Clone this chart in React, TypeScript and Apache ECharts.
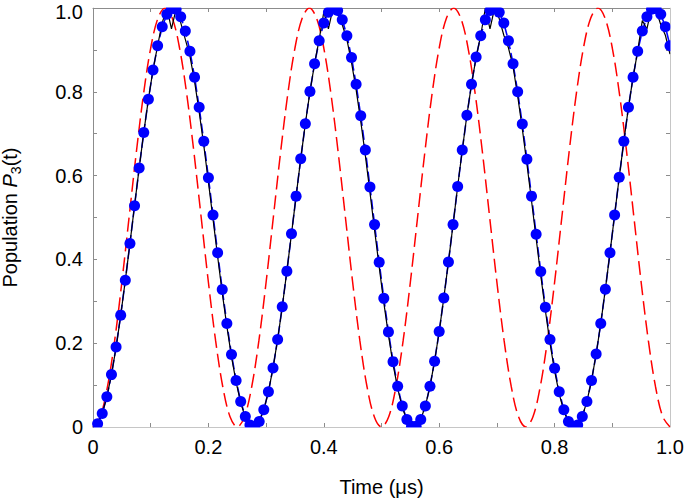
import React, { useEffect, useRef } from "react";
import * as echarts from "echarts";

// Time grid steps (µs)
const RED_STEP = 0.0125;
const BLUE_STEP = 0.008;

// Red dashed curve (values at t = 0, 0.0125, ... 1.0)
const redValues = [
  0, 0.0245, 0.0955, 0.2061, 0.3455, 0.5, 0.6545, 0.7939, 0.9045, 0.9755,
  1, 0.9755, 0.9045, 0.7939, 0.6545, 0.5, 0.3455, 0.2061, 0.0955, 0.0245,
  0, 0.0245, 0.0955, 0.2061, 0.3455, 0.5, 0.6545, 0.7939, 0.9045, 0.9755,
  1, 0.9755, 0.9045, 0.7939, 0.6545, 0.5, 0.3455, 0.2061, 0.0955, 0.0245,
  0, 0.0245, 0.0955, 0.2061, 0.3455, 0.5, 0.6545, 0.7939, 0.9045, 0.9755,
  1, 0.9755, 0.9045, 0.7939, 0.6545, 0.5, 0.3455, 0.2061, 0.0955, 0.0245,
  0, 0.0245, 0.0955, 0.2061, 0.3455, 0.5, 0.6545, 0.7939, 0.9045, 0.9755,
  1, 0.9755, 0.9045, 0.7939, 0.6545, 0.5, 0.3455, 0.2061, 0.0955, 0.0245,
  0,
];

// Blue dots (values at t = 0.008, 0.016, ... 1.0)
const blueValues = [
  0.008, 0.032, 0.072, 0.125, 0.191, 0.267, 0.35, 0.438, 0.528, 0.618,
  0.703, 0.782, 0.852, 0.91, 0.955, 0.985, 0.999, 0.997, 0.979, 0.945,
  0.897, 0.835, 0.763, 0.682, 0.595, 0.506, 0.416, 0.328, 0.247, 0.173,
  0.111, 0.061, 0.025, 0.005, 0.001, 0.013, 0.041, 0.084, 0.141, 0.209,
  0.287, 0.372, 0.461, 0.551, 0.64, 0.724, 0.801, 0.867, 0.922, 0.964,
  0.99, 1.0, 0.994, 0.972, 0.934, 0.882, 0.818, 0.743, 0.661, 0.573,
  0.483, 0.393, 0.307, 0.227, 0.156, 0.097, 0.05, 0.018, 0.002, 0.002,
  0.018, 0.05, 0.097, 0.157, 0.228, 0.308, 0.394, 0.483, 0.574, 0.661,
  0.744, 0.818, 0.883, 0.934, 0.972, 0.994, 1.0, 0.99, 0.964, 0.922,
  0.867, 0.8, 0.723, 0.639, 0.551, 0.46, 0.371, 0.286, 0.209, 0.14,
  0.084, 0.041, 0.013, 0.001, 0.005, 0.025, 0.061, 0.111, 0.174, 0.247,
  0.329, 0.416, 0.506, 0.596, 0.682, 0.763, 0.835, 0.897, 0.945, 0.979,
  0.997, 0.999, 0.985, 0.955, 0.91,
];

// Black solid curve (values at t = 0, 0.008, ... 1.0)
const blackValues = [
  0, 0.008, 0.032, 0.072, 0.125, 0.19, 0.266, 0.35, 0.438, 0.528,
  0.618, 0.703, 0.782, 0.852, 0.91, 0.965, 1.0, 0.95, 0.998, 0.965,
  0.925, 0.885, 0.825, 0.752, 0.672, 0.585, 0.496, 0.407, 0.32, 0.24,
  0.168, 0.107, 0.058, 0.023, 0.004, 0.001, 0.013, 0.041, 0.084, 0.141,
  0.209, 0.287, 0.372, 0.461, 0.551, 0.64, 0.724, 0.8, 0.867, 0.925,
  0.99, 0.95, 1.0, 0.985, 0.96, 0.925, 0.87, 0.805, 0.73, 0.648,
  0.56, 0.47, 0.382, 0.297, 0.22, 0.15, 0.092, 0.047, 0.016, 0.002,
  0.002, 0.018, 0.05, 0.097, 0.157, 0.228, 0.308, 0.394, 0.483, 0.574,
  0.661, 0.744, 0.818, 0.882, 0.935, 1.0, 0.95, 1.0, 0.975, 0.935,
  0.905, 0.86, 0.79, 0.712, 0.628, 0.54, 0.45, 0.362, 0.278, 0.2,
  0.134, 0.079, 0.038, 0.012, 0.001, 0.005, 0.025, 0.061, 0.111, 0.174,
  0.247, 0.329, 0.416, 0.506, 0.596, 0.682, 0.763, 0.835, 0.897, 0.97,
  0.95, 1.0, 0.995, 0.96, 0.935, 0.89,
];

const X_MIN = 0;
const X_MAX = 1;
const Y_MIN = 0;
const Y_MAX = 1;
const TICK_STEP = 0.1;
const X_NAME = "Time (μs)";

const FONT = "'Liberation Sans', Arial, Helvetica, sans-serif";
const FRAME = "#8c8c8c";

const fmt = (v: number) => {
  const n = Math.round(v * 10);
  if (n % 2 !== 0) return "";
  if (n === 0) return "0";
  return (n / 10).toFixed(1);
};

const fmtY = (v: number) => {
  const s = fmt(v);
  if (Math.round(v * 10) === 10) return "{t|" + s + "}";
  return s;
};

export default function App() {
  const ref = useRef<HTMLDivElement>(null);

  useEffect(() => {
    if (!ref.current) return;
    const chart = echarts.init(ref.current, undefined, { renderer: "svg" });

    const redData = redValues.map((v, i) => [i * RED_STEP, v]);
    const blueData = blueValues.map((v, i) => [(i + 1) * BLUE_STEP, v]);
    const blackData = blackValues.map((v, i) => [i * BLUE_STEP, v]);

    const L = 93, R = 670, T = 8, B = 427;

    const axisCommon = {
      min: X_MIN,
      max: X_MAX,
      interval: TICK_STEP,
      axisLine: { show: true, onZero: false, lineStyle: { color: FRAME, width: 1 } },
      axisTick: { show: true, inside: true, length: 4, lineStyle: { color: FRAME, width: 1 } },
      splitLine: { show: false },
    };

    chart.setOption({
      animation: false,
      backgroundColor: "#ffffff",
      grid: {
        left: L,
        right: 685 - R,
        top: T,
        bottom: 503 - B,
        containLabel: false,
        outerBoundsMode: "none",
      },
      xAxis: [
        {
          ...axisCommon,
          type: "value",
          position: "bottom",
          name: X_NAME,
          nameLocation: "middle",
          nameGap: 50,
          nameTextStyle: { color: "#000", fontSize: 20, fontFamily: FONT },
          axisLabel: { formatter: fmt, color: "#000", fontSize: 20, fontFamily: FONT, margin: 10 },
        },
        {
          ...axisCommon,
          type: "value",
          position: "top",
          axisLabel: { show: false },
        },
      ],
      yAxis: [
        {
          ...axisCommon,
          min: Y_MIN,
          max: Y_MAX,
          type: "value",
          position: "left",
          name: "Population {i|P}{sub|3}(t)",
          nameLocation: "middle",
          nameRotate: 90,
          nameGap: 70,
          nameTextStyle: {
            color: "#000",
            fontSize: 20,
            fontFamily: FONT,
            lineHeight: 26,
            rich: {
              i: { fontStyle: "italic", fontSize: 20, fontFamily: FONT, color: "#000", lineHeight: 26 },
              sub: { fontSize: 14, fontFamily: FONT, color: "#000", verticalAlign: "bottom", lineHeight: 18 },
            },
          },
          axisLabel: {
            formatter: fmtY,
            color: "#000",
            fontSize: 20,
            fontFamily: FONT,
            margin: 10,
            rich: {
              t: { fontSize: 20, fontFamily: FONT, color: "#000", padding: [7, 0, 0, 0] },
            },
          },
        },
        {
          ...axisCommon,
          min: Y_MIN,
          max: Y_MAX,
          type: "value",
          position: "right",
          axisLabel: { show: false },
        },
      ],
      series: [
        {
          type: "line",
          data: redData,
          smooth: 0.35,
          showSymbol: false,
          symbol: "none",
          lineStyle: { color: "#ff0000", width: 1.5, type: [14, 6] },
          z: 2,
          silent: true,
        },
        {
          type: "line",
          data: blueData,
          showSymbol: false,
          symbol: "none",
          lineStyle: { color: "#0000ff", width: 1.6, type: [10, 4] },
          z: 3,
          silent: true,
        },
        {
          type: "line",
          data: blackData,
          showSymbol: false,
          symbol: "none",
          lineStyle: { color: "#000000", width: 1.2 },
          z: 4,
          silent: true,
        },
        {
          type: "scatter",
          data: blueData,
          symbol: "circle",
          symbolSize: 11,
          itemStyle: { color: "#0000ff", opacity: 1 },
          clip: false,
          z: 5,
          silent: true,
        },
      ],
      graphic: [
        { type: "rect", z: 100, shape: { x: L - 1, y: 0, width: 685 - L + 1, height: T - 0.5 }, style: { fill: "#fff" } },
        { type: "rect", z: 100, shape: { x: R + 0.5, y: 0, width: 685 - R, height: B + 6 }, style: { fill: "#fff" } },
        { type: "rect", z: 100, shape: { x: L + 0.5, y: B + 0.5, width: R - L, height: 9 }, style: { fill: "#fff" } },
      ],
    });

    return () => chart.dispose();
  }, []);

  return (
    <div
      ref={ref}
      style={{ position: "fixed", left: 0, top: 0, width: 685, height: 503, background: "#fff" }}
    />
  );
}
